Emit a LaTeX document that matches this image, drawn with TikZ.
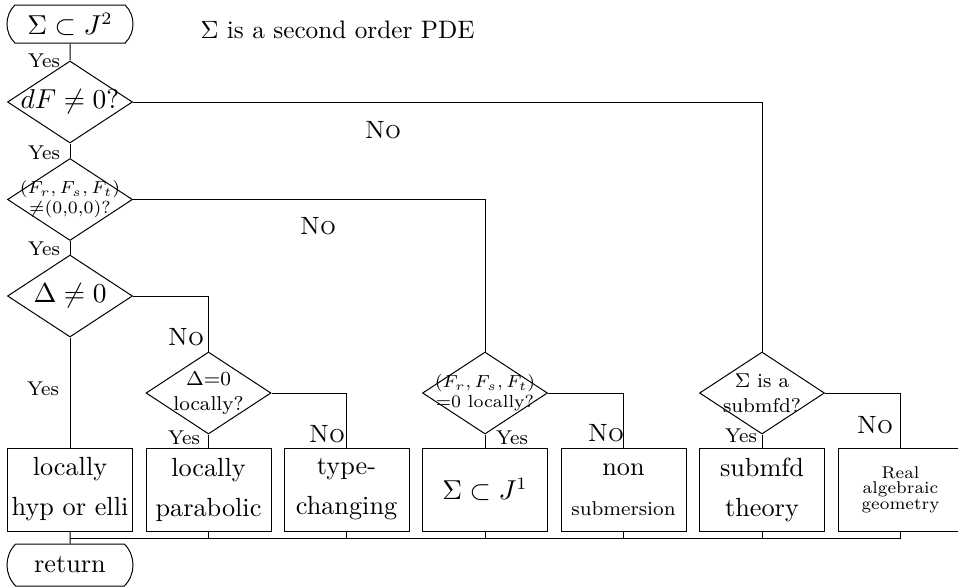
\documentclass[tikz,border=0pt]{standalone}
\usetikzlibrary{shapes.geometric,shapes.misc}
\begin{document}
\begin{tikzpicture}[x=0.4pt,y=-0.4pt,
  big/.style={font=\fontsize{10.5}{16}\selectfont},
  term/.style={draw, rounded rectangle, rounded rectangle arc length=90, minimum width=50.4pt, minimum height=15.2pt, inner sep=0pt, big},
  dia/.style={draw, diamond, minimum width=50pt, minimum height=32.8pt, inner sep=0pt},
  dtext/.style={inner sep=0pt, align=center},
  stepbox/.style={draw, rectangle, minimum width=50pt, minimum height=33.2pt, inner sep=0pt, align=center, big},
  yes/.style={font=\fontsize{8}{9}\selectfont, inner sep=0pt},
  no/.style={font=\fontsize{10}{12}\selectfont\scshape, inner sep=0pt}
]
\useasboundingbox (0,0) rectangle (958,587);
% terminals
\node[term] (start) at (70,24) {$\Sigma\subset J^2$};
\node[font=\fontsize{10.1}{12}\selectfont, anchor=west, inner sep=0pt] (pde) at (200,30) {$\Sigma$ is a second order PDE};
% main column diamonds
\node[dia] (d1) at (70,102) {};
\node[dtext, big] (t1) at (d1) {$dF\neq 0?$};
\node[dia] (d2) at (70,199.5) {};
\node[dtext, font=\fontsize{7}{8}\selectfont] (t2) at (d2) {$(F_r,F_s,F_t)$\\$\neq$(0,0,0)?};
\node[dia] (d3) at (70,296) {};
\node[dtext, big] (t3) at (d3) {$\Delta\neq 0$};
% second row diamonds
\node[dia] (d4) at (208.5,393) {};
\node[dtext, font=\fontsize{8}{10}\selectfont] (t4) at (d4) {$\Delta$=0\\locally?};
\node[dia] (d5) at (485,393) {};
\node[dtext, font=\fontsize{7}{8}\selectfont] (t5) at (d5) {$(F_r,F_s,F_t)$\\=0 locally?};
\node[dia] (d6) at (762,393) {};
\node[dtext, font=\fontsize{8}{10}\selectfont] (t6) at (d6) {$\Sigma$ is a\\submfd?};
% boxes
\node[stepbox] (b1) at (70,489.5) {locally\\hyp or elli};
\node[stepbox] (b2) at (208.5,489.5) {locally\\parabolic};
\node[stepbox] (b3) at (346.5,489.5) {type-\\changing};
\node[stepbox] (b4) at (485,489.5) {$\Sigma\subset J^1$};
\node[stepbox] (b5) at (623.5,489.5) {non\\{\fontsize{8}{10}\selectfont submersion}};
\node[stepbox] (b6) at (762,489.5) {submfd\\theory};
\node[stepbox, font=\fontsize{6.8}{6.2}\selectfont] (b7) at (900.5,489.5) {Real\\algebraic\\geometry};
\node[term, minimum height=16.8pt] (ret) at (70,565) {return};
\coordinate (bus) at (70,538);
% connectors
\draw (start) -- (d1);
\draw (d1) -- (d2);
\draw (d2) -- (d3);
\draw (d3) -- (b1);
\draw (d1.east) -| (d6.north);
\draw (d2.east) -| (d5.north);
\draw (d3.east) -| (d4.north);
\draw (d4) -- (b2);
\draw (d4.east) -| (b3.north);
\draw (d5) -- (b4);
\draw (d5.east) -| (b5.north);
\draw (d6) -- (b6);
\draw (d6.east) -| (b7.north);
\foreach \b in {b2,b3,b4,b5,b6,b7} \draw (\b.south) |- (bus);
\draw (b1) -- (ret);
% labels
\node[yes] (y1) at (44,61) {Yes};
\node[yes] (y2) at (44,153) {Yes};
\node[yes] (y3) at (44,249) {Yes};
\node[yes] (y4) at (43,389) {Yes};
\node[yes] (y5) at (184,438) {Yes};
\node[yes] (y6) at (512,438) {Yes};
\node[yes] (y7) at (741,436) {Yes};
\node[no] (n1) at (383,130) {No};
\node[no] (n2) at (318,226) {No};
\node[no] (n3) at (186,337) {No};
\node[no] (n4) at (327,434) {No};
\node[no] (n5) at (606,433) {No};
\node[no] (n6) at (875,425) {No};
\end{tikzpicture}
\end{document}
